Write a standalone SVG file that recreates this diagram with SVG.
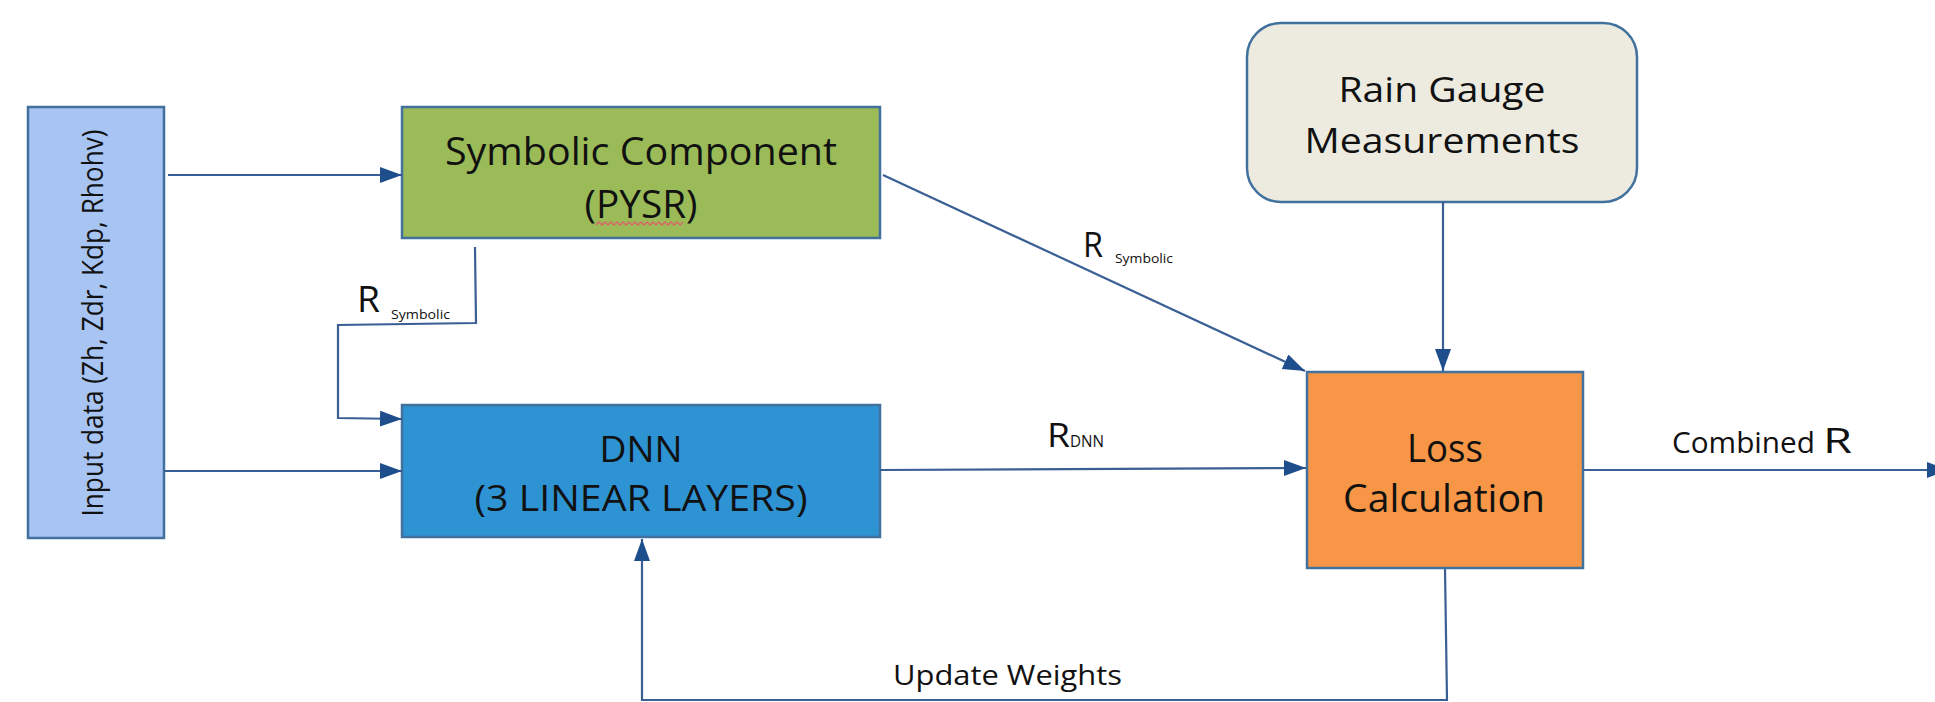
<svg xmlns="http://www.w3.org/2000/svg" width="1935" height="702" viewBox="0 0 1935 702">
<style>
.box{stroke:#41719C;stroke-width:2.5}
.t{font-family:"Open Sans","Noto Sans","Liberation Sans",sans-serif;fill:#111;}
.c{text-anchor:middle}
.ln{fill:none;stroke:#3A5F94;stroke-width:2.2}
</style>
<defs>
<marker id="ah" markerUnits="userSpaceOnUse" markerWidth="24" markerHeight="18" refX="22" refY="8" orient="auto">
<path d="M0,0 L22,8 L0,16 z" fill="#1F4E8C"/>
</marker>
</defs>
<rect width="1935" height="702" fill="#fff"/>

<g id="input">
<rect class="box" x="28" y="107" width="136" height="431" fill="#A7C4F3"/>
<text class="t c" transform="translate(103,323) rotate(-90)" font-size="30" textLength="387" lengthAdjust="spacingAndGlyphs">Input data (Zh, Zdr, Kdp, Rhohv)</text>
</g>

<g id="symbolic">
<rect class="box" x="402" y="107" width="478" height="131" fill="#9BBB59"/>
<text class="t c" x="641" y="165" font-size="38" textLength="392" lengthAdjust="spacingAndGlyphs">Symbolic Component</text>
<text class="t c" x="641" y="218" font-size="38" textLength="113" lengthAdjust="spacingAndGlyphs">(PYSR)</text>
<path d="M596,225 l3,-3 l3,3 l3,-3 l3,3 l3,-3 l3,3 l3,-3 l3,3 l3,-3 l3,3 l3,-3 l3,3 l3,-3 l3,3 l3,-3 l3,3 l3,-3 l3,3 l3,-3 l3,3 l3,-3 l3,3 l3,-3 l3,3 l3,-3 l3,3 l3,-3 l3,3 l3,-3" fill="none" stroke="#E0606A" stroke-width="1.3"/>
</g>

<g id="dnn">
<rect class="box" x="402" y="405" width="478" height="132" fill="#2E93D3"/>
<text class="t c" x="641" y="462" font-size="36" textLength="83" lengthAdjust="spacingAndGlyphs">DNN</text>
<text class="t c" x="641" y="511" font-size="36" textLength="333" lengthAdjust="spacingAndGlyphs">(3 LINEAR LAYERS)</text>
</g>

<g id="raingauge">
<rect class="box" x="1247" y="23" width="390" height="179" rx="34" fill="#EDEBE0"/>
<text class="t c" x="1442" y="102" font-size="34" textLength="207" lengthAdjust="spacingAndGlyphs">Rain Gauge</text>
<text class="t c" x="1442" y="153" font-size="34" textLength="275" lengthAdjust="spacingAndGlyphs">Measurements</text>
</g>

<g id="loss">
<rect class="box" x="1307" y="372" width="276" height="196" fill="#F79646"/>
<text class="t c" x="1445" y="462" font-size="38" textLength="76" lengthAdjust="spacingAndGlyphs">Loss</text>
<text class="t c" x="1444" y="512" font-size="38" textLength="202" lengthAdjust="spacingAndGlyphs">Calculation</text>
</g>

<g id="connectors">
<path class="ln" d="M168,175 L402,175" marker-end="url(#ah)"/>
<path class="ln" d="M164,471 L402,471" marker-end="url(#ah)"/>
<path class="ln" d="M475,247 L476,323 L338,325 L338,418 L402,419" marker-end="url(#ah)"/>
<path class="ln" d="M883,175 L1305,371" marker-end="url(#ah)"/>
<path class="ln" d="M1443,202 L1443,371" marker-end="url(#ah)"/>
<path class="ln" d="M880,470 L1306,468" marker-end="url(#ah)"/>
<path class="ln" d="M1583,470 L1949,470" marker-end="url(#ah)"/>
<path class="ln" d="M1445,569 L1447,700 L642,700 L642,539" marker-end="url(#ah)"/>
</g>

<g id="labels">
<text class="t" x="357" y="312" font-size="37" textLength="23" lengthAdjust="spacingAndGlyphs">R</text>
<text class="t" x="391" y="319" font-size="13" textLength="59" lengthAdjust="spacingAndGlyphs" fill="#333">Symbolic</text>
<text class="t" x="1083" y="257" font-size="35" textLength="20" lengthAdjust="spacingAndGlyphs">R</text>
<text class="t" x="1115" y="263" font-size="13" textLength="58" lengthAdjust="spacingAndGlyphs" fill="#333">Symbolic</text>
<text class="t" x="1047" y="447" font-size="32" textLength="23" lengthAdjust="spacingAndGlyphs">R</text>
<text class="t" x="1070" y="447" font-size="17" textLength="34" lengthAdjust="spacingAndGlyphs">DNN</text>
<text class="t" x="1672" y="453" font-size="29" textLength="143" lengthAdjust="spacingAndGlyphs">Combined</text>
<text class="t" x="1823" y="453" font-size="35" textLength="29" lengthAdjust="spacingAndGlyphs">R</text>
<text class="t" x="893" y="685" font-size="28" textLength="229" lengthAdjust="spacingAndGlyphs">Update Weights</text>
</g>
</svg>
